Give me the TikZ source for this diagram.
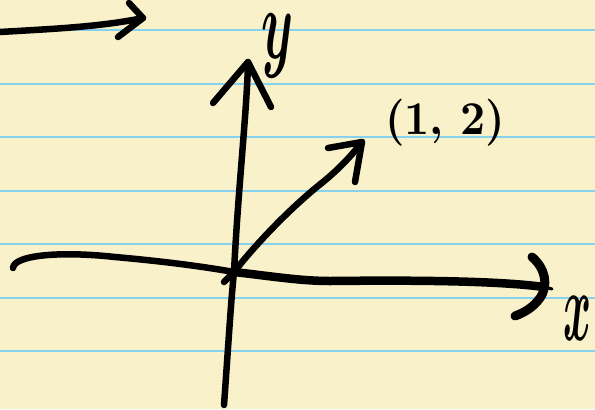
\documentclass[tikz,border=0pt]{standalone}
\usepackage{bm}
\usepackage{graphicx}
\definecolor{paper}{HTML}{F9F1C9}
\definecolor{rulecol}{HTML}{86D2EE}
\begin{document}
\begin{tikzpicture}[x=1bp,y=-1bp,
  ink/.style={line width=6.5bp,line cap=round,line join=round,black},
  heavy/.style={line width=8.5bp,line cap=round,line join=round,black},
  paperline/.style={rulecol,line width=1.6bp},
  lab/.style={inner sep=0pt,anchor=north west,text=black}]
\fill[paper] (0,0) rectangle (595,409);
\useasboundingbox (0,0) rectangle (595,409);
\foreach \yy in {30,84,137,191,244,298,351}
  \draw[paperline] (0,\yy) -- (595,\yy);
% coordinates
\coordinate (O) at (234,272);
\coordinate (ytop) at (248,62);
\coordinate (ybot) at (224,405);
\coordinate (xleft) at (13,268);
\coordinate (xtip) at (544,287);
\coordinate (vtip) at (362,142);
\coordinate (tl0) at (0,32);
\coordinate (tltip) at (143,18);
\coordinate (ybl) at (213,103);
\coordinate (ybr) at (271,107);
\coordinate (vbl) at (328,148);
\coordinate (vbr) at (355,182);
\coordinate (tlb1) at (129,3);
\coordinate (tlb2) at (118,37);
% top-left arrow
\draw[ink] (tl0) .. controls (50,29) and (100,27) .. (tltip);
\draw[ink] (tlb1) -- (tltip) -- (tlb2);
% y axis
\draw[ink] (ybot) .. controls (228,350) and (231,300) .. (O) .. controls (238,190) and (247,110) .. (ytop);
\draw[ink] (ybl) -- (ytop) -- (ybr);
% x axis
\draw[ink] (xleft) .. controls (14,255) and (60,251) .. (115,257) .. controls (160,261) and (200,266) .. (O);
\draw[heavy] (O) .. controls (270,276) and (300,281) .. (330,281) .. controls (420,280) and (500,281) .. (xtip);
\draw[line width=9bp,line cap=round,black] (532,257) .. controls (545,268) and (549,285) .. (540,298) .. controls (533,308) and (523,313) .. (515,316);
\draw[line width=3bp,line cap=round,black] (545,287) -- (552,289);
\draw[ink] (O) -- (224,282);
% vector
\draw[ink] (O) .. controls (255,245) and (290,208) .. (323,182) .. controls (340,168) and (352,155) .. (vtip);
\draw[ink] (vbl) -- (vtip) -- (vbr);
% labels
\node[lab] (ylab) at (261,14) {\resizebox*{32bp}{64bp}{$\bm{y}$}};
\node[lab] (ptlab) at (385,99) {\resizebox*{120bp}{47bp}{\bfseries (1, 2)}};
\node[lab] (xlab) at (563,296) {\resizebox*{28bp}{44bp}{$\bm{x}$}};
\end{tikzpicture}
\end{document}
